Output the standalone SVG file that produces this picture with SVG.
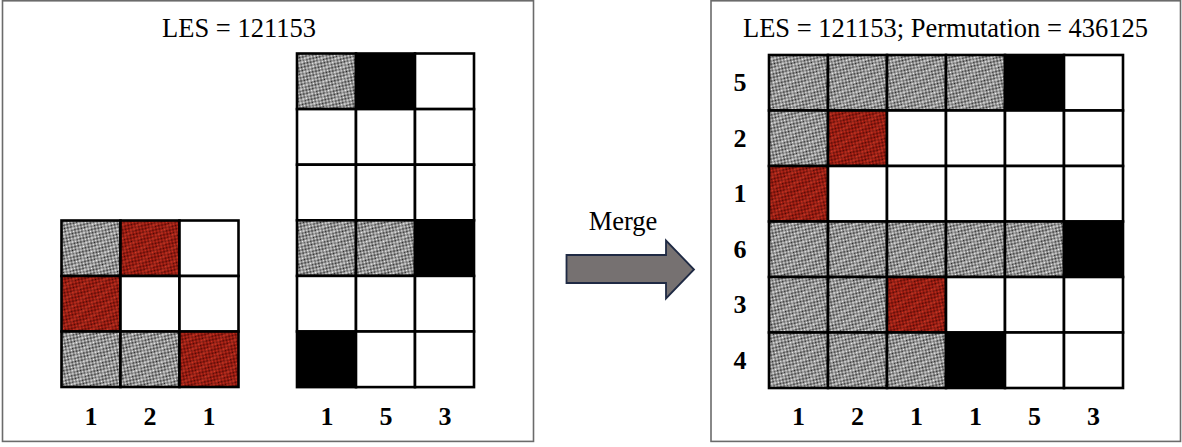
<svg xmlns="http://www.w3.org/2000/svg" width="1182" height="447" viewBox="0 0 1182 447">
  <style>
    .panel { fill: #ffffff; stroke: #6b6b6b; stroke-width: 1.6; }
    .title { font-family: "Liberation Serif", "Times New Roman", serif; font-size: 26.5px; fill: #000; text-anchor: middle; }
    .lbl { font-family: "Liberation Serif", "Times New Roman", serif; font-size: 26px; font-weight: bold; fill: #000; text-anchor: middle; }
    .c { stroke: #000; stroke-width: 2.6; }
    .g { fill: url(#grey); }
    .r { fill: url(#red); }
    .k { fill: #000; }
    .w { fill: #fff; }
  </style>
  <defs>
    <!-- 1px checker dither -->
    <pattern id="chkGrey" patternUnits="userSpaceOnUse" width="2" height="2">
      <rect width="2" height="2" fill="#f4f4f4"/>
      <rect width="1" height="1" fill="#222222"/>
      <rect x="1" y="1" width="1" height="1" fill="#222222"/>
    </pattern>
    <pattern id="chkRed" patternUnits="userSpaceOnUse" width="2" height="2">
      <rect width="2" height="2" fill="#d2301f"/>
      <rect width="1" height="1" fill="#4a0603"/>
      <rect x="1" y="1" width="1" height="1" fill="#4a0603"/>
    </pattern>
    <!-- diagonal light streaks over the dither -->
    <pattern id="grey" patternUnits="userSpaceOnUse" width="10" height="10" patternTransform="rotate(-40)">
      <rect width="10" height="10" fill="url(#chkGrey)"/>
      <rect width="10" height="3" fill="#ffffff" fill-opacity="0.2"/>
    </pattern>
    <pattern id="red" patternUnits="userSpaceOnUse" width="10" height="10" patternTransform="rotate(-40)">
      <rect width="10" height="10" fill="url(#chkRed)"/>
      <rect width="10" height="3" fill="#ff6040" fill-opacity="0.15"/>
    </pattern>
  </defs>

  <!-- left panel: two separate LES blocks -->
  <g id="panel-left">
    <rect class="panel" x="2.5" y="0.8" width="531" height="440.6"/>
    <text class="title" x="239" y="37">LES = 121153</text>
  </g>

  <g id="block-3x3">
    <rect class="c g" x="61.5" y="220.5" width="59" height="55.5"/>
    <rect class="c r" x="120.5" y="220.5" width="59" height="55.5"/>
    <rect class="c w" x="179.5" y="220.5" width="59" height="55.5"/>
    <rect class="c r" x="61.5" y="276" width="59" height="55.5"/>
    <rect class="c w" x="120.5" y="276" width="59" height="55.5"/>
    <rect class="c w" x="179.5" y="276" width="59" height="55.5"/>
    <rect class="c g" x="61.5" y="331.5" width="59" height="55.5"/>
    <rect class="c g" x="120.5" y="331.5" width="59" height="55.5"/>
    <rect class="c r" x="179.5" y="331.5" width="59" height="55.5"/>
    <text class="lbl" x="91" y="425">1</text>
    <text class="lbl" x="150" y="425">2</text>
    <text class="lbl" x="209" y="425">1</text>
  </g>

  <g id="block-3x6">
    <rect class="c g" x="297" y="53.5" width="59" height="55.6"/>
    <rect class="c k" x="356" y="53.5" width="59" height="55.6"/>
    <rect class="c w" x="415" y="53.5" width="59" height="55.6"/>
    <rect class="c w" x="297" y="109.1" width="59" height="55.6"/>
    <rect class="c w" x="356" y="109.1" width="59" height="55.6"/>
    <rect class="c w" x="415" y="109.1" width="59" height="55.6"/>
    <rect class="c w" x="297" y="164.7" width="59" height="55.6"/>
    <rect class="c w" x="356" y="164.7" width="59" height="55.6"/>
    <rect class="c w" x="415" y="164.7" width="59" height="55.6"/>
    <rect class="c g" x="297" y="220.3" width="59" height="55.6"/>
    <rect class="c g" x="356" y="220.3" width="59" height="55.6"/>
    <rect class="c k" x="415" y="220.3" width="59" height="55.6"/>
    <rect class="c w" x="297" y="275.9" width="59" height="55.6"/>
    <rect class="c w" x="356" y="275.9" width="59" height="55.6"/>
    <rect class="c w" x="415" y="275.9" width="59" height="55.6"/>
    <rect class="c k" x="297" y="331.5" width="59" height="55.6"/>
    <rect class="c w" x="356" y="331.5" width="59" height="55.6"/>
    <rect class="c w" x="415" y="331.5" width="59" height="55.6"/>
    <text class="lbl" x="327" y="425">1</text>
    <text class="lbl" x="386" y="425">5</text>
    <text class="lbl" x="445" y="425">3</text>
  </g>

  <!-- merge arrow -->
  <g id="connectors">
    <text class="title" x="623" y="230">Merge</text>
    <path d="M566.5 255 H666 V240.5 L694 269.5 L666 298.5 V283 H566.5 Z" fill="#767171" stroke="#1f2a44" stroke-width="1.8" stroke-linejoin="miter"/>
  </g>

  <!-- right panel: merged 6x6 -->
  <g id="panel-right">
    <rect class="panel" x="711" y="0.8" width="469.5" height="440.6"/>
    <text class="title" x="945.5" y="37">LES = 121153; Permutation = 436125</text>
  </g>

  <g id="block-6x6">
    <!-- row: 5 -->
    <rect class="c g" x="769" y="55" width="59" height="55.5"/>
    <rect class="c g" x="828" y="55" width="59" height="55.5"/>
    <rect class="c g" x="887" y="55" width="59" height="55.5"/>
    <rect class="c g" x="946" y="55" width="59" height="55.5"/>
    <rect class="c k" x="1005" y="55" width="59" height="55.5"/>
    <rect class="c w" x="1064" y="55" width="59" height="55.5"/>
    <!-- row: 2 -->
    <rect class="c g" x="769" y="110.5" width="59" height="55.5"/>
    <rect class="c r" x="828" y="110.5" width="59" height="55.5"/>
    <rect class="c w" x="887" y="110.5" width="59" height="55.5"/>
    <rect class="c w" x="946" y="110.5" width="59" height="55.5"/>
    <rect class="c w" x="1005" y="110.5" width="59" height="55.5"/>
    <rect class="c w" x="1064" y="110.5" width="59" height="55.5"/>
    <!-- row: 1 -->
    <rect class="c r" x="769" y="166" width="59" height="55.5"/>
    <rect class="c w" x="828" y="166" width="59" height="55.5"/>
    <rect class="c w" x="887" y="166" width="59" height="55.5"/>
    <rect class="c w" x="946" y="166" width="59" height="55.5"/>
    <rect class="c w" x="1005" y="166" width="59" height="55.5"/>
    <rect class="c w" x="1064" y="166" width="59" height="55.5"/>
    <!-- row: 6 -->
    <rect class="c g" x="769" y="221.5" width="59" height="55.5"/>
    <rect class="c g" x="828" y="221.5" width="59" height="55.5"/>
    <rect class="c g" x="887" y="221.5" width="59" height="55.5"/>
    <rect class="c g" x="946" y="221.5" width="59" height="55.5"/>
    <rect class="c g" x="1005" y="221.5" width="59" height="55.5"/>
    <rect class="c k" x="1064" y="221.5" width="59" height="55.5"/>
    <!-- row: 3 -->
    <rect class="c g" x="769" y="277" width="59" height="55.5"/>
    <rect class="c g" x="828" y="277" width="59" height="55.5"/>
    <rect class="c r" x="887" y="277" width="59" height="55.5"/>
    <rect class="c w" x="946" y="277" width="59" height="55.5"/>
    <rect class="c w" x="1005" y="277" width="59" height="55.5"/>
    <rect class="c w" x="1064" y="277" width="59" height="55.5"/>
    <!-- row: 4 -->
    <rect class="c g" x="769" y="332.5" width="59" height="55.5"/>
    <rect class="c g" x="828" y="332.5" width="59" height="55.5"/>
    <rect class="c g" x="887" y="332.5" width="59" height="55.5"/>
    <rect class="c k" x="946" y="332.5" width="59" height="55.5"/>
    <rect class="c w" x="1005" y="332.5" width="59" height="55.5"/>
    <rect class="c w" x="1064" y="332.5" width="59" height="55.5"/>

    <text class="lbl" x="740" y="91">5</text>
    <text class="lbl" x="740" y="147">2</text>
    <text class="lbl" x="740" y="202">1</text>
    <text class="lbl" x="740" y="258">6</text>
    <text class="lbl" x="740" y="313">3</text>
    <text class="lbl" x="740" y="369">4</text>

    <text class="lbl" x="798.5" y="425">1</text>
    <text class="lbl" x="857.5" y="425">2</text>
    <text class="lbl" x="916.5" y="425">1</text>
    <text class="lbl" x="975.5" y="425">1</text>
    <text class="lbl" x="1034.5" y="425">5</text>
    <text class="lbl" x="1093.5" y="425">3</text>
  </g>
</svg>
